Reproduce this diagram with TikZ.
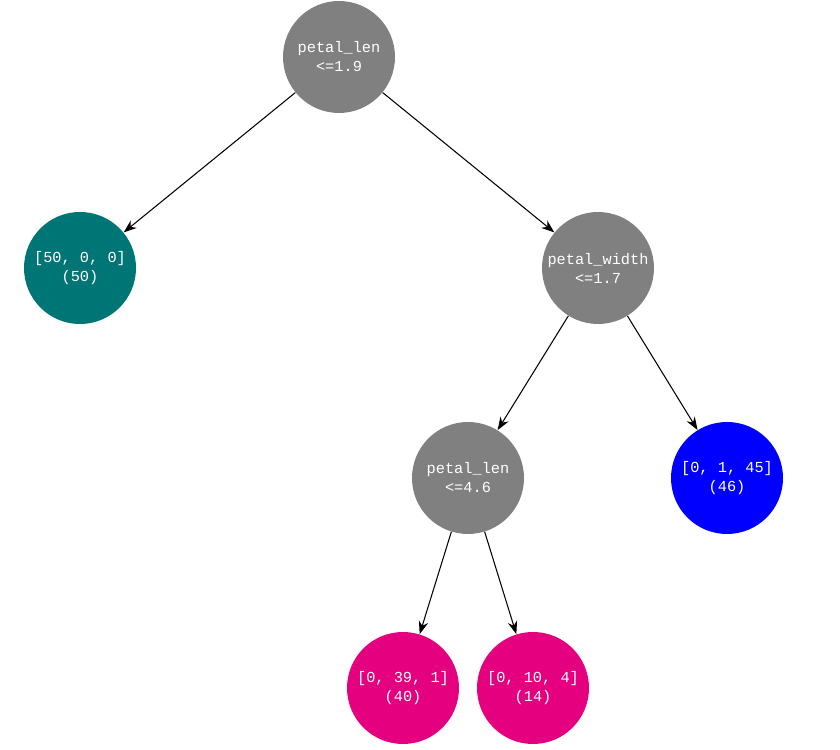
\documentclass[tikz,border=0pt]{standalone}
\usepackage{fontspec}
\setmonofont{Liberation Mono}
\usepackage{tikz}
\usetikzlibrary{arrows.meta}
\definecolor{splitgray}{HTML}{808080}
\definecolor{leafteal}{HTML}{007575}
\definecolor{leafblue}{HTML}{0000FF}
\definecolor{leafpink}{HTML}{E4007F}
\tikzset{
    tnode/.style={circle, minimum size=2.24cm, inner sep=0pt, text=white, align=center,
        font=\ttfamily\fontsize{8.7}{10.8}\selectfont},
    split/.style={tnode, fill=splitgray},
    arr/.style={-{Stealth[length=2.6mm, width=1.9mm]}, line width=0.6pt}
}
\begin{document}
\begin{tikzpicture}
        \useasboundingbox (0,0) rectangle (16.8,14.98);

        % Split nodes
        \node [split] (root) at (6.78,13.84) {petal\_len\\<=1.9};
        \node [split] (width) at (11.96,9.62) {petal\_width\\<=1.7};
        \node [split] (len) at (9.36,5.42) {petal\_len\\<=4.6};

        % Leaves
        \node [tnode, fill=leafteal] (setosa) at (1.60,9.62) {[50, 0, 0]\\(50)};
        \node [tnode, fill=leafblue] (virginica) at (14.54,5.42) {[0, 1, 45]\\(46)};
        \node [tnode, fill=leafpink] (versicolor) at (8.06,1.22) {[0, 39, 1]\\(40)};
        \node [tnode, fill=leafpink] (mixed) at (10.66,1.22) {[0, 10, 4]\\(14)};

        % Arrows
        \draw [arr] (root) -- (setosa);
        \draw [arr] (root) -- (width);
        \draw [arr] (width) -- (len);
        \draw [arr] (width) -- (virginica);
        \draw [arr] (len) -- (versicolor);
        \draw [arr] (len) -- (mixed);
    \end{tikzpicture}
\end{document}
